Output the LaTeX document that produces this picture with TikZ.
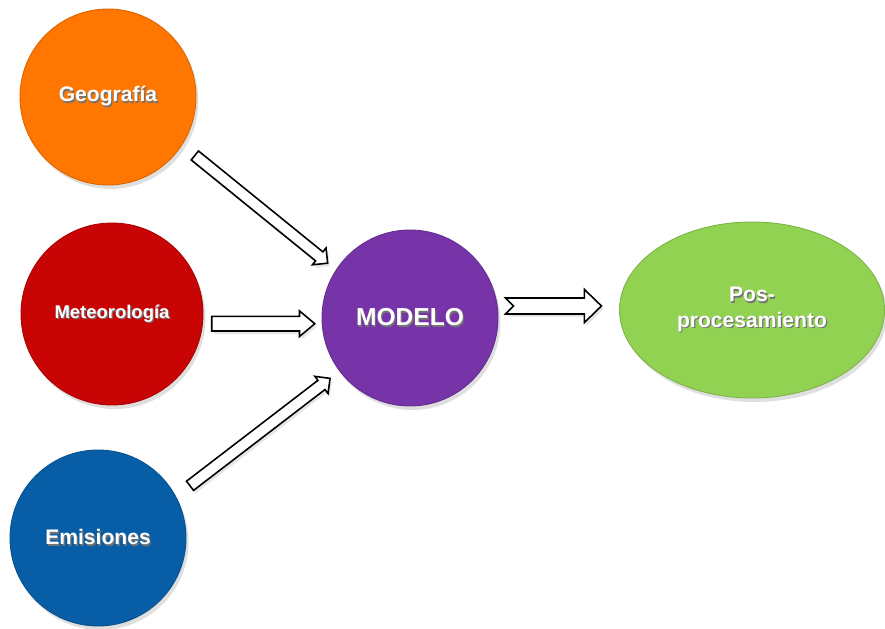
\documentclass[tikz,border=0pt]{standalone}
\usepackage{fontspec}
\setmainfont{Liberation Sans}
\usepackage{xcolor}
\usepackage{tikz}
\usetikzlibrary{positioning,arrows.meta,calc,shapes.geometric,shapes.arrows,shadows}
\definecolor{geocol}{RGB}{255,118,0}
\definecolor{metcol}{RGB}{200,4,4}
\definecolor{emicol}{RGB}{8,94,166}
\definecolor{modcol}{RGB}{118,52,168}
\definecolor{poscol}{RGB}{146,210,82}
\newcommand{\shtxt}[1]{\makebox[0pt][l]{\hspace{0.7pt}\raisebox{-0.7pt}{\textcolor{black!55}{#1}}}#1}

\begin{document}
\begin{tikzpicture}[every node/.style={font=\bfseries\fontsize{12}{14.4}\selectfont,text=white},
  circ/.style={circle,inner sep=0pt,minimum size=3.52cm,draw=#1!85!black,line width=0.5pt,fill=#1,
    drop shadow={opacity=0.25,shadow xshift=0.5mm,shadow yshift=-0.8mm}},
  arr/.style={single arrow,draw=black,line width=0.9pt,fill=white,inner xsep=0pt,inner ysep=0.1cm,
    single arrow head extend=0.1cm,single arrow tip angle=90,
    drop shadow={opacity=0.2,shadow xshift=0.4mm,shadow yshift=-0.6mm}}]
\useasboundingbox (0,0) rectangle (17.7,12.56);
\node[circ=geocol] (geo) at (2.16,10.62) {\shtxt{Geografía}};
\node[circ=metcol,minimum size=3.64cm,font=\bfseries\fontsize{10.5}{12}\selectfont] (met) at (2.24,6.28) {\shtxt{Meteorología}};
\node[circ=emicol] (emi) at (1.96,1.80) {\shtxt{Emisiones}};
\node[circ=modcol,font=\bfseries\fontsize{14}{16}\selectfont] (mod) at (8.20,6.20) {\shtxt{MODELO}};
\node[ellipse,inner sep=0pt,minimum width=5.3cm,minimum height=3.52cm,fill=poscol,draw=poscol!85!black,line width=0.5pt,
  drop shadow={opacity=0.25,shadow xshift=0.5mm,shadow yshift=-0.8mm},align=center] (pos) at (15.04,6.36)
  {\shtxt{Pos-}\\\shtxt{procesamiento}};
% flechas de entrada
\path (geo.-33) -- (mod.147) node[arr,midway,sloped,minimum height=3.42cm] (a1) {};
\path (met.-5) -- (mod.185) node[arr,pos=0.47,minimum height=2.06cm,inner ysep=0.13cm,
  single arrow head extend=0.11cm,single arrow tip angle=80] (a2) {};
\path (emi.28) -- (mod.217) node[arr,midway,sloped,minimum height=3.53cm] (a3) {};
% flecha de salida
\coordinate (t) at ([shift={(0.14cm,0.24cm)}]mod.east);
\draw[black,line width=0.9pt,fill=white,drop shadow={opacity=0.2,shadow xshift=0.4mm,shadow yshift=-0.6mm}]
  ([xshift=0.16cm]t) -- ++(-0.16,0.16) -- ++(1.58,0) -- ++(0,0.17) -- ++(0.34,-0.33)
  -- ++(-0.34,-0.33) -- ++(0,0.17) -- ++(-1.58,0) -- cycle;
\end{tikzpicture}
\end{document}
